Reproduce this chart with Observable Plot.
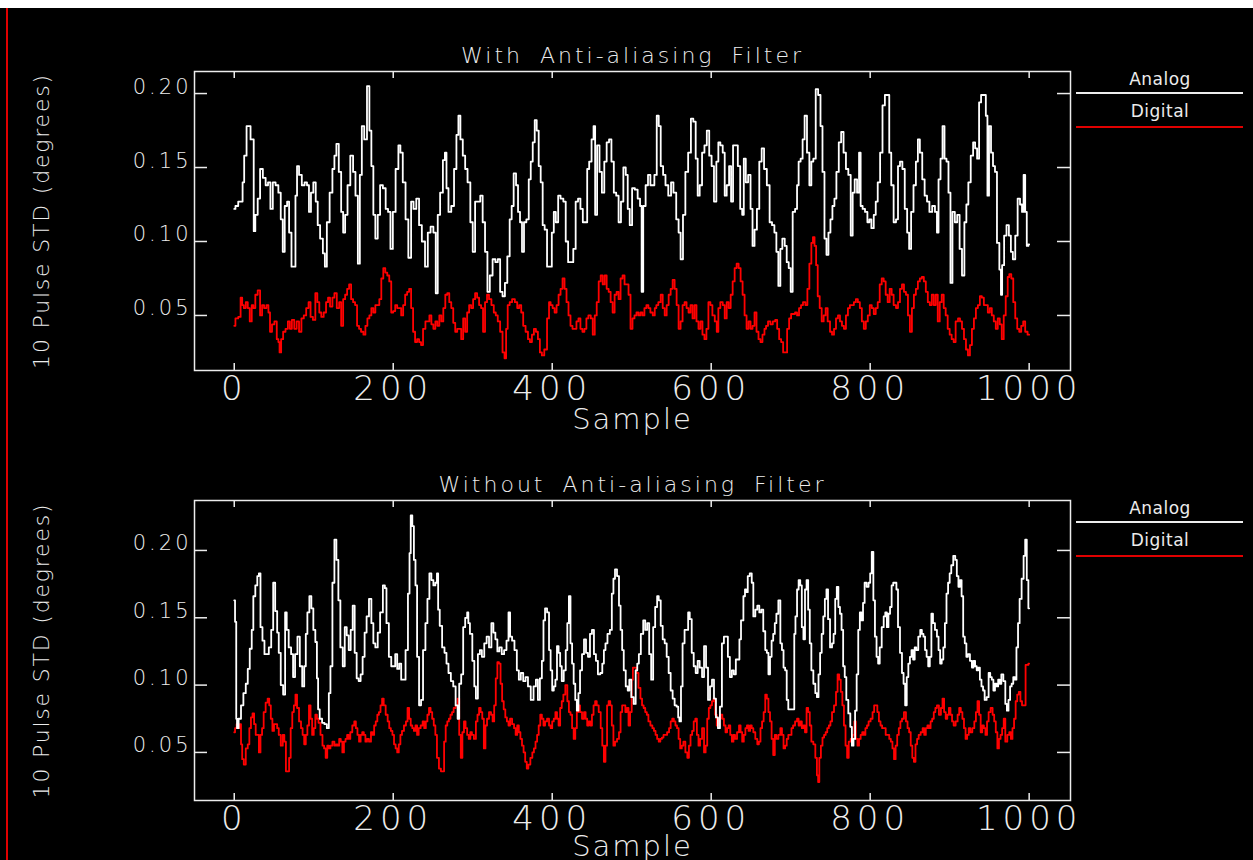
<!DOCTYPE html>
<html><head><meta charset="utf-8">
<script src="https://cdn.jsdelivr.net/npm/d3@7"></script>
<script src="https://cdn.jsdelivr.net/npm/@observablehq/plot@0.6"></script>
<style>
html,body{margin:0;padding:0;background:#000;}
#root{position:relative;width:1253px;height:860px;background:#000;overflow:hidden;font-family:"DejaVu Sans",sans-serif;}
.panel{position:absolute;left:0;}
#root svg text{font-weight:200;}
</style></head><body><div id="root"></div>
<script>
// ---------- data ----------
const xDomain = [-50, 1052];
const xTicks = [0, 200, 400, 600, 800, 1000];
const yTicks = [0.05, 0.10, 0.15, 0.20];
const topYDomain = [0.0128, 0.2149];
const bottomYDomain = [0.0143, 0.2371];
const panelTitles = ["With Anti-aliasing Filter", "Without Anti-aliasing Filter"];
const xLabel = "Sample";
const yLabel = "10 Pulse STD (degrees)";
const seriesNames = ["Analog", "Digital"];
const seriesColors = ["#ffffff", "#ff0000"];

// [sample, value]
const topAnalog = [[0,.122],[3,.124],[7,.127],[10,.127],[11,.140],[14,.158],[17,.178],[19,.178],[22,.169],[24,.169],[25,.107],[28,.118],[31,.129],[34,.149],[38,.143],[41,.138],[44,.140],[47,.122],[50,.140],[54,.138],[57,.133],[60,.115],[62,.093],[65,.124],[68,.127],[70,.106],[74,.083],[76,.083],[78,.131],[80,.151],[83,.145],[87,.138],[90,.140],[93,.138],[95,.120],[98,.133],[101,.140],[104,.127],[106,.111],[110,.102],[113,.092],[115,.083],[118,.113],[122,.133],[125,.149],[127,.158],[130,.166],[133,.147],[136,.120],[138,.106],[141,.118],[144,.138],[148,.158],[151,.147],[154,.131],[157,.085],[159,.145],[162,.178],[165,.169],[169,.205],[171,.175],[174,.151],[176,.118],[179,.102],[182,.118],[185,.138],[189,.136],[192,.122],[195,.120],[198,.095],[201,.120],[205,.149],[208,.165],[210,.160],[214,.140],[217,.115],[221,.089],[224,.127],[227,.122],[231,.129],[234,.111],[238,.100],[242,.083],[245,.106],[249,.110],[252,.106],[255,.065],[257,.118],[261,.133],[264,.155],[266,.160],[268,.136],[271,.120],[275,.124],[278,.149],[281,.172],[283,.185],[286,.169],[289,.158],[292,.149],[295,.140],[299,.113],[301,.093],[305,.127],[308,.127],[311,.131],[314,.113],[317,.093],[320,.066],[323,.077],[327,.088],[330,.086],[333,.088],[336,.066],[339,.063],[342,.072],[345,.090],[348,.115],[350,.124],[353,.146],[356,.138],[358,.120],[361,.113],[363,.093],[366,.113],[369,.115],[372,.142],[374,.154],[377,.167],[379,.182],[382,.175],[384,.151],[387,.140],[389,.111],[392,.108],[395,.083],[398,.083],[401,.106],[403,.120],[406,.113],[409,.131],[412,.129],[416,.127],[418,.100],[422,.086],[425,.086],[428,.095],[431,.127],[434,.129],[437,.122],[440,.113],[443,.113],[445,.149],[448,.154],[451,.169],[453,.178],[455,.118],[458,.165],[461,.147],[464,.133],[467,.154],[470,.167],[473,.169],[476,.154],[479,.133],[482,.131],[485,.113],[488,.127],[491,.150],[494,.145],[496,.122],[499,.111],[502,.136],[506,.135],[509,.129],[512,.124],[513,.066],[516,.124],[519,.138],[522,.145],[525,.138],[527,.138],[530,.145],[533,.185],[535,.178],[538,.151],[541,.145],[544,.138],[548,.131],[551,.140],[554,.133],[558,.115],[560,.106],[563,.088],[566,.118],[569,.147],[573,.160],[576,.183],[579,.181],[582,.156],[584,.131],[587,.138],[590,.160],[593,.165],[596,.175],[599,.158],[602,.151],[605,.127],[608,.154],[610,.167],[613,.165],[616,.160],[618,.131],[621,.138],[624,.151],[626,.127],[629,.165],[632,.165],[635,.151],[638,.122],[640,.118],[642,.156],[645,.140],[648,.145],[651,.122],[653,.097],[656,.108],[659,.122],[662,.154],[665,.163],[668,.149],[672,.138],[675,.113],[678,.111],[681,.106],[683,.093],[686,.070],[688,.095],[691,.102],[694,.097],[696,.086],[699,.082],[701,.066],[704,.120],[707,.122],[709,.138],[711,.154],[714,.156],[716,.169],[719,.185],[722,.160],[725,.138],[727,.154],[730,.156],[733,.203],[736,.199],[739,.178],[741,.147],[744,.102],[746,.091],[749,.106],[751,.115],[754,.124],[756,.129],[759,.147],[762,.167],[765,.174],[768,.160],[771,.149],[774,.145],[777,.104],[779,.133],[782,.142],[785,.133],[787,.160],[789,.124],[792,.122],[795,.120],[798,.113],[800,.115],[803,.109],[806,.118],[808,.127],[811,.140],[814,.160],[817,.192],[820,.199],[823,.199],[825,.160],[828,.138],[831,.113],[834,.115],[836,.151],[839,.154],[842,.149],[845,.122],[848,.106],[850,.095],[853,.120],[856,.138],[859,.154],[861,.169],[864,.160],[867,.142],[870,.131],[873,.127],[876,.120],[880,.124],[883,.120],[885,.106],[887,.142],[890,.156],[892,.178],[895,.156],[897,.154],[900,.133],[902,.072],[905,.120],[908,.113],[911,.118],[914,.095],[917,.077],[920,.113],[922,.125],[925,.140],[928,.158],[931,.167],[933,.163],[936,.156],[938,.194],[941,.199],[944,.199],[947,.185],[948,.131],[951,.178],[953,.160],[956,.151],[958,.147],[961,.099],[964,.081],[965,.064],[967,.084],[970,.104],[973,.111],[976,.104],[978,.093],[981,.088],[984,.104],[987,.129],[990,.125],[992,.120],[994,.145],[996,.120],[998,.097],[1000,.098]];

const topDigital = [[0,.043],[3,.048],[7,.049],[9,.062],[11,.057],[13,.055],[16,.059],[18,.055],[21,.046],[23,.057],[25,.055],[28,.064],[31,.067],[34,.050],[36,.057],[39,.055],[42,.057],[44,.052],[46,.039],[49,.044],[52,.046],[55,.034],[56,.032],[58,.025],[60,.034],[63,.039],[66,.041],[69,.046],[71,.041],[74,.047],[77,.041],[80,.046],[83,.039],[86,.048],[89,.050],[92,.055],[95,.059],[97,.049],[101,.047],[103,.065],[106,.059],[108,.052],[111,.049],[114,.052],[117,.059],[119,.062],[122,.056],[125,.062],[127,.065],[131,.055],[133,.059],[136,.043],[138,.061],[141,.064],[143,.068],[146,.071],[148,.061],[151,.059],[153,.057],[156,.043],[158,.041],[161,.039],[164,.037],[166,.043],[169,.048],[171,.050],[174,.055],[176,.052],[179,.057],[181,.057],[184,.061],[186,.075],[189,.082],[191,.079],[194,.077],[196,.073],[199,.052],[201,.053],[204,.057],[206,.055],[209,.055],[211,.050],[214,.057],[216,.064],[219,.066],[221,.068],[224,.055],[226,.039],[229,.032],[231,.034],[234,.032],[236,.030],[239,.041],[242,.046],[244,.046],[247,.050],[249,.044],[252,.041],[254,.046],[257,.043],[259,.050],[262,.046],[264,.055],[267,.064],[269,.065],[272,.059],[274,.055],[277,.045],[279,.039],[282,.041],[284,.041],[287,.034],[289,.048],[292,.039],[294,.052],[297,.057],[299,.055],[302,.061],[304,.065],[307,.062],[309,.057],[312,.055],[314,.039],[317,.059],[319,.064],[322,.061],[325,.057],[328,.052],[330,.050],[333,.046],[336,.039],[339,.025],[341,.021],[343,.041],[345,.057],[348,.059],[351,.061],[355,.059],[357,.055],[360,.057],[362,.052],[365,.043],[368,.039],[371,.034],[373,.032],[376,.037],[378,.041],[381,.039],[383,.034],[386,.025],[388,.023],[392,.027],[395,.048],[397,.059],[399,.057],[402,.055],[404,.052],[407,.057],[409,.064],[412,.068],[414,.075],[417,.068],[419,.059],[422,.050],[424,.043],[427,.041],[429,.041],[432,.046],[434,.048],[437,.041],[439,.039],[442,.041],[444,.048],[447,.050],[450,.048],[452,.037],[455,.050],[457,.059],[460,.073],[462,.077],[465,.071],[467,.077],[470,.068],[472,.066],[475,.059],[477,.052],[480,.064],[482,.066],[485,.061],[487,.075],[490,.077],[492,.071],[495,.071],[497,.064],[500,.041],[502,.048],[505,.050],[507,.052],[510,.050],[512,.052],[515,.050],[517,.055],[520,.057],[522,.055],[525,.052],[528,.050],[530,.055],[532,.057],[535,.059],[538,.064],[540,.055],[543,.050],[545,.057],[548,.064],[550,.068],[553,.074],[555,.068],[558,.057],[560,.041],[563,.046],[565,.057],[568,.059],[570,.055],[573,.052],[575,.057],[578,.048],[580,.057],[583,.046],[585,.041],[588,.046],[590,.037],[593,.034],[595,.041],[598,.059],[600,.057],[603,.050],[606,.046],[608,.039],[610,.055],[613,.059],[616,.057],[618,.048],[621,.059],[623,.055],[626,.064],[628,.073],[631,.082],[633,.085],[636,.082],[638,.073],[641,.064],[643,.050],[646,.041],[648,.046],[651,.041],[653,.043],[656,.052],[658,.039],[661,.034],[663,.032],[666,.037],[668,.041],[670,.043],[673,.046],[676,.044],[679,.046],[682,.047],[684,.041],[687,.034],[689,.032],[692,.025],[694,.025],[697,.041],[699,.048],[702,.051],[704,.051],[707,.052],[709,.050],[712,.055],[714,.057],[717,.059],[720,.057],[722,.068],[725,.085],[727,.099],[729,.103],[731,.097],[733,.084],[735,.063],[738,.055],[740,.046],[743,.050],[745,.055],[748,.046],[751,.039],[753,.037],[756,.041],[758,.048],[761,.050],[763,.046],[766,.043],[768,.041],[771,.050],[773,.055],[776,.057],[778,.057],[781,.059],[783,.061],[786,.059],[788,.055],[791,.046],[793,.041],[796,.046],[798,.050],[801,.057],[803,.055],[806,.051],[808,.055],[811,.059],[813,.071],[816,.075],[818,.073],[821,.064],[823,.059],[826,.068],[828,.064],[831,.057],[834,.055],[836,.059],[839,.068],[841,.071],[844,.066],[846,.064],[849,.050],[851,.039],[854,.055],[856,.064],[859,.068],[861,.073],[864,.075],[866,.076],[869,.073],[871,.066],[874,.059],[876,.057],[879,.064],[881,.057],[884,.064],[886,.046],[889,.059],[891,.064],[894,.055],[896,.050],[899,.041],[901,.037],[904,.034],[906,.032],[909,.046],[912,.048],[914,.046],[917,.041],[919,.034],[922,.027],[924,.023],[927,.030],[929,.041],[932,.048],[934,.055],[937,.057],[939,.063],[942,.062],[944,.057],[947,.057],[949,.052],[952,.055],[954,.050],[957,.046],[959,.041],[962,.048],[964,.044],[967,.034],[969,.050],[972,.063],[974,.076],[976,.078],[979,.075],[981,.059],[984,.048],[986,.041],[989,.039],[991,.043],[994,.046],[996,.039],[1000,.037]];

const bottomAnalog = [[0,.163],[2,.147],[3,.075],[4,.068],[7,.075],[10,.085],[13,.094],[16,.101],[18,.112],[21,.127],[23,.141],[25,.166],[28,.174],[30,.181],[32,.183],[34,.143],[37,.133],[39,.123],[42,.123],[45,.128],[48,.141],[50,.176],[53,.155],[55,.139],[57,.124],[60,.100],[63,.093],[65,.154],[67,.141],[70,.128],[73,.123],[75,.106],[78,.123],[81,.136],[84,.114],[87,.099],[89,.114],[91,.138],[93,.154],[96,.166],[98,.157],[101,.141],[103,.132],[105,.105],[106,.082],[109,.075],[112,.072],[115,.071],[118,.068],[120,.094],[122,.114],[125,.176],[127,.208],[130,.193],[132,.163],[135,.128],[138,.114],[140,.143],[143,.137],[145,.126],[148,.141],[150,.159],[153,.124],[155,.105],[158,.103],[160,.108],[163,.121],[165,.139],[168,.151],[171,.164],[174,.146],[176,.131],[179,.128],[182,.139],[185,.154],[189,.174],[190,.172],[193,.146],[196,.121],[199,.114],[201,.114],[204,.123],[206,.112],[209,.116],[211,.104],[214,.104],[217,.126],[220,.168],[221,.198],[223,.226],[225,.218],[227,.193],[229,.174],[231,.121],[234,.085],[236,.089],[239,.126],[242,.146],[244,.164],[247,.183],[249,.178],[252,.174],[254,.176],[256,.183],[257,.156],[260,.144],[263,.128],[266,.124],[268,.116],[271,.109],[274,.103],[277,.099],[280,.085],[282,.075],[284,.101],[287,.108],[289,.143],[292,.150],[294,.154],[295,.146],[298,.138],[301,.118],[303,.099],[305,.090],[308,.123],[310,.126],[313,.121],[316,.131],[319,.136],[322,.128],[325,.146],[327,.139],[330,.134],[332,.125],[335,.128],[338,.123],[341,.126],[344,.133],[346,.154],[348,.136],[351,.133],[354,.126],[357,.111],[359,.104],[362,.109],[365,.103],[368,.106],[371,.099],[375,.089],[378,.099],[381,.104],[383,.089],[386,.105],[388,.118],[390,.148],[392,.157],[395,.154],[397,.126],[399,.111],[401,.096],[403,.099],[405,.104],[407,.129],[409,.124],[411,.114],[413,.103],[416,.111],[418,.126],[420,.146],[422,.166],[424,.131],[426,.116],[428,.101],[430,.089],[432,.081],[434,.094],[436,.111],[439,.123],[441,.134],[444,.124],[446,.121],[449,.138],[451,.141],[454,.123],[456,.118],[459,.108],[462,.109],[464,.116],[466,.126],[468,.131],[471,.138],[474,.141],[476,.168],[478,.179],[480,.186],[483,.181],[485,.159],[487,.141],[489,.126],[491,.111],[494,.099],[496,.096],[498,.104],[501,.091],[504,.086],[506,.111],[508,.116],[510,.123],[513,.138],[516,.148],[518,.141],[521,.146],[523,.123],[526,.104],[528,.143],[531,.158],[533,.166],[535,.163],[538,.144],[540,.134],[543,.131],[545,.121],[548,.109],[550,.096],[553,.090],[555,.085],[558,.084],[559,.076],[561,.073],[563,.099],[565,.131],[568,.141],[570,.141],[572,.154],[574,.149],[577,.124],[579,.114],[582,.109],[584,.118],[587,.113],[590,.106],[592,.129],[595,.113],[597,.089],[600,.099],[602,.104],[605,.090],[607,.076],[610,.068],[612,.084],[615,.131],[617,.136],[620,.136],[622,.121],[625,.106],[627,.111],[630,.108],[632,.119],[635,.119],[636,.134],[639,.148],[642,.166],[643,.171],[645,.169],[647,.181],[650,.183],[652,.176],[654,.151],[657,.156],[659,.159],[662,.154],[664,.156],[667,.140],[669,.126],[671,.124],[673,.108],[675,.121],[677,.133],[679,.138],[681,.146],[683,.153],[686,.163],[688,.131],[690,.126],[692,.113],[694,.111],[696,.089],[698,.082],[701,.082],[704,.082],[705,.138],[707,.151],[709,.171],[711,.178],[713,.174],[715,.143],[717,.134],[719,.171],[721,.178],[723,.156],[725,.131],[727,.111],[730,.101],[732,.094],[734,.091],[736,.108],[738,.124],[740,.138],[742,.151],[744,.164],[746,.171],[748,.149],[751,.128],[753,.131],[755,.138],[757,.164],[759,.173],[761,.158],[763,.153],[765,.141],[767,.114],[769,.106],[771,.089],[774,.079],[776,.069],[778,.055],[780,.060],[782,.081],[784,.108],[786,.141],[788,.154],[790,.148],[792,.161],[794,.176],[797,.173],[799,.176],[801,.183],[803,.199],[805,.163],[807,.136],[809,.121],[811,.116],[813,.128],[816,.143],[818,.151],[820,.154],[822,.143],[824,.153],[826,.158],[828,.174],[830,.176],[832,.176],[834,.171],[836,.143],[839,.124],[841,.109],[843,.101],[845,.085],[847,.106],[849,.116],[851,.121],[853,.126],[855,.119],[857,.128],[859,.126],[862,.136],[864,.141],[866,.138],[868,.136],[870,.126],[872,.121],[874,.114],[876,.121],[878,.153],[880,.146],[883,.141],[885,.136],[887,.126],[889,.116],[891,.119],[893,.128],[895,.146],[897,.168],[899,.176],[901,.183],[903,.189],[906,.196],[908,.193],[910,.181],[912,.173],[914,.178],[916,.166],[918,.136],[920,.131],[922,.121],[924,.123],[927,.118],[929,.113],[931,.118],[933,.114],[935,.111],[937,.113],[939,.104],[941,.099],[943,.096],[945,.089],[948,.091],[950,.109],[952,.106],[954,.104],[956,.096],[958,.101],[960,.099],[962,.104],[964,.101],[966,.108],[969,.103],[971,.086],[973,.081],[975,.089],[977,.099],[979,.101],[981,.106],[983,.104],[985,.128],[987,.146],[989,.164],[992,.179],[994,.196],[996,.208],[998,.178],[1000,.157]];

const bottomDigital = [[0,.065],[2,.068],[4,.071],[6,.068],[8,.071],[9,.056],[11,.045],[13,.041],[16,.053],[18,.056],[20,.068],[22,.076],[24,.079],[26,.071],[28,.063],[30,.063],[32,.050],[34,.063],[36,.068],[38,.080],[41,.087],[43,.090],[45,.085],[47,.075],[49,.066],[51,.071],[53,.071],[55,.068],[57,.063],[60,.055],[62,.063],[64,.058],[66,.036],[68,.036],[70,.046],[72,.068],[74,.080],[76,.085],[78,.093],[80,.083],[83,.073],[85,.068],[87,.063],[89,.056],[91,.063],[93,.070],[95,.085],[97,.075],[99,.063],[101,.068],[103,.078],[105,.075],[107,.072],[110,.063],[112,.055],[114,.053],[116,.046],[118,.055],[120,.053],[122,.055],[125,.058],[127,.055],[129,.056],[131,.055],[133,.060],[135,.058],[137,.050],[139,.058],[141,.060],[143,.063],[145,.060],[147,.065],[150,.070],[152,.073],[154,.068],[156,.063],[158,.058],[160,.063],[162,.065],[164,.063],[166,.058],[168,.060],[171,.058],[173,.065],[175,.063],[177,.070],[179,.073],[181,.078],[183,.080],[185,.085],[187,.090],[189,.085],[192,.078],[194,.073],[196,.068],[198,.066],[200,.063],[202,.056],[204,.053],[206,.050],[208,.056],[210,.063],[212,.066],[215,.070],[217,.073],[219,.083],[221,.075],[223,.070],[225,.068],[227,.066],[229,.070],[231,.063],[233,.068],[236,.070],[238,.073],[240,.068],[242,.073],[244,.078],[246,.083],[248,.080],[250,.075],[252,.070],[254,.063],[256,.046],[259,.038],[261,.036],[263,.036],[265,.058],[267,.070],[269,.073],[271,.075],[273,.078],[275,.080],[277,.083],[280,.085],[282,.090],[284,.063],[286,.046],[288,.065],[290,.073],[292,.068],[294,.063],[296,.060],[298,.065],[300,.063],[303,.060],[305,.073],[307,.078],[309,.083],[311,.080],[313,.075],[315,.053],[317,.070],[319,.075],[322,.080],[324,.078],[326,.073],[328,.085],[330,.105],[332,.117],[334,.116],[336,.101],[338,.088],[340,.082],[342,.076],[344,.073],[346,.070],[348,.075],[351,.071],[353,.068],[355,.063],[357,.070],[359,.065],[361,.060],[363,.055],[365,.050],[367,.043],[369,.038],[371,.041],[374,.046],[376,.050],[378,.053],[380,.058],[382,.063],[384,.070],[386,.078],[388,.075],[390,.070],[392,.073],[395,.075],[397,.070],[399,.068],[401,.073],[403,.075],[405,.080],[407,.075],[409,.070],[411,.083],[413,.088],[415,.093],[418,.100],[420,.088],[422,.080],[424,.078],[426,.068],[428,.060],[430,.068],[432,.080],[434,.085],[436,.080],[439,.075],[441,.080],[443,.075],[445,.070],[447,.073],[449,.070],[451,.078],[453,.085],[455,.088],[457,.085],[460,.080],[462,.068],[464,.055],[466,.043],[468,.055],[470,.085],[472,.088],[474,.085],[476,.070],[478,.055],[480,.058],[483,.060],[485,.065],[487,.080],[489,.085],[491,.085],[493,.080],[495,.083],[497,.070],[499,.080],[501,.104],[502,.113],[505,.113],[507,.109],[510,.098],[512,.090],[514,.085],[516,.083],[518,.080],[520,.078],[522,.073],[525,.070],[527,.068],[529,.066],[531,.063],[533,.060],[535,.058],[537,.060],[539,.061],[541,.063],[543,.063],[546,.065],[548,.068],[550,.073],[552,.075],[554,.073],[556,.070],[558,.068],[560,.060],[562,.053],[564,.055],[566,.058],[569,.050],[571,.046],[573,.055],[575,.063],[577,.066],[579,.073],[581,.075],[583,.063],[585,.055],[587,.060],[590,.068],[592,.050],[594,.055],[596,.075],[598,.083],[600,.085],[602,.088],[604,.090],[606,.078],[608,.070],[610,.075],[613,.078],[615,.075],[617,.070],[619,.065],[621,.068],[623,.070],[625,.063],[627,.058],[629,.063],[631,.060],[634,.065],[636,.070],[638,.065],[640,.058],[642,.063],[644,.068],[646,.070],[648,.066],[650,.070],[652,.068],[654,.065],[657,.060],[659,.056],[661,.058],[663,.068],[665,.073],[667,.080],[669,.093],[671,.090],[673,.080],[675,.073],[677,.060],[679,.048],[681,.063],[683,.060],[686,.063],[688,.068],[690,.063],[692,.053],[694,.055],[696,.060],[698,.063],[700,.063],[702,.068],[704,.070],[707,.073],[709,.075],[711,.070],[713,.073],[715,.068],[717,.070],[719,.065],[721,.083],[723,.080],[725,.070],[727,.058],[730,.056],[732,.046],[734,.033],[735,.028],[737,.046],[739,.055],[741,.061],[743,.063],[745,.065],[747,.068],[749,.070],[751,.073],[753,.080],[756,.085],[758,.095],[760,.108],[762,.104],[764,.095],[766,.085],[768,.070],[770,.055],[772,.046],[774,.058],[777,.060],[779,.063],[781,.073],[783,.060],[785,.055],[787,.060],[789,.063],[791,.065],[793,.063],[795,.068],[797,.070],[799,.073],[802,.075],[804,.080],[806,.085],[808,.085],[810,.080],[812,.073],[814,.070],[816,.068],[818,.068],[821,.063],[823,.063],[825,.060],[827,.058],[829,.053],[831,.045],[833,.055],[835,.063],[837,.068],[839,.073],[841,.075],[844,.080],[846,.073],[848,.068],[850,.065],[852,.055],[854,.046],[856,.043],[858,.056],[860,.060],[862,.063],[865,.065],[867,.068],[869,.063],[871,.068],[873,.070],[875,.068],[877,.073],[879,.075],[881,.080],[883,.083],[885,.085],[888,.078],[890,.083],[892,.090],[894,.080],[896,.075],[898,.078],[900,.083],[902,.078],[904,.073],[906,.070],[909,.073],[911,.078],[913,.083],[915,.080],[917,.075],[919,.068],[921,.060],[923,.063],[925,.068],[927,.065],[930,.068],[932,.073],[934,.080],[936,.088],[938,.078],[940,.065],[942,.070],[944,.068],[946,.063],[948,.073],[950,.080],[953,.083],[955,.078],[957,.073],[959,.065],[961,.053],[963,.060],[965,.063],[967,.068],[969,.075],[971,.058],[974,.063],[976,.065],[978,.060],[980,.068],[982,.075],[984,.088],[986,.093],[988,.095],[990,.088],[992,.085],[995,.085],[996,.115],[998,.115],[1000,.116]];

// ---------- drawing ----------
const W = 1253, H = 430, ML = 194, MR = 183, MB = 60;
const FG = "#ececec";
const toRows = (arr) => arr.map(([sample, value]) => ({sample, value}));

function panel({title, yDomain, analog, digital, marginTop, sampleDy}) {
  const fw = W - ML - MR, fh = H - marginTop - MB;
  const svg = Plot.plot({
    width: W, height: H,
    marginLeft: ML, marginRight: MR, marginTop, marginBottom: MB,
    style: {background: "transparent", color: FG, fontFamily: "DejaVu Sans", overflow: "visible"},
    x: {domain: xDomain, axis: null},
    y: {domain: yDomain, axis: null},
    marks: [
      Plot.frame({stroke: FG, strokeWidth: 1.5}),
      Plot.tickY(yTicks, {y: d => d, stroke: FG, strokeWidth: 1.5, insetRight: fw - 13}),
      Plot.tickY(yTicks, {y: d => d, stroke: FG, strokeWidth: 1.5, insetLeft: fw - 13}),
      Plot.tickX(xTicks, {x: d => d, stroke: FG, strokeWidth: 1.5, insetBottom: fh - 7}),
      Plot.tickX(xTicks, {x: d => d, stroke: FG, strokeWidth: 1.5, insetTop: fh - 7}),
      Plot.axisY(yTicks, {anchor: "left", tickSize: 0, tickPadding: 3, fontSize: 21, lineAnchor: "bottom", tickFormat: d3.format(".2f"), label: null, fill: FG}),
      Plot.axisX(xTicks, {anchor: "bottom", tickSize: 0, tickPadding: 5, fontSize: 34, tickFormat: d => String(d), label: null, fill: FG}),
      Plot.line(toRows(digital), {x: "sample", y: "value", curve: "step", stroke: seriesColors[1], strokeWidth: 1.8}),
      Plot.line(toRows(analog), {x: "sample", y: "value", curve: "step", stroke: seriesColors[0], strokeWidth: 1.8}),
      Plot.text([title], {text: d => d, frameAnchor: "top", dy: -9, lineAnchor: "bottom", fontSize: 22, fill: FG}),
      Plot.text([xLabel], {text: d => d, frameAnchor: "bottom", dy: sampleDy, lineAnchor: "bottom", fontSize: 29, fill: FG}),
      Plot.text([yLabel], {text: d => d, frameAnchor: "left", textAnchor: "middle", dx: -146, rotate: -90, lineAnchor: "bottom", fontSize: 22, fill: FG})
    ]
  });
  const s = d3.select(svg);
  s.selectAll('g[aria-label="y-axis tick label"] text').style("letter-spacing", "3px");
  s.selectAll('g[aria-label="x-axis tick label"] text').style("letter-spacing", "5px");
  s.selectAll("text").each(function() {
    const t = this.textContent;
    if (t === title) d3.select(this).style("letter-spacing", "3px").style("word-spacing", "7px");
    else if (t === xLabel) d3.select(this).style("letter-spacing", "2px");
    else if (t === yLabel) d3.select(this).style("letter-spacing", "1.8px");
  });
  return svg;
}

const root = document.getElementById("root");
const panels = [
  {title: panelTitles[0], yDomain: topYDomain, analog: topAnalog, digital: topDigital, marginTop: 71, sampleDy: 58, top: 0},
  {title: panelTitles[1], yDomain: bottomYDomain, analog: bottomAnalog, digital: bottomDigital, marginTop: 70, sampleDy: 55, top: 430}
];
for (const p of panels) {
  const div = document.createElement("div");
  div.className = "panel";
  div.style.top = p.top + "px";
  div.appendChild(panel(p));
  root.appendChild(div);
}

// decorations + legends
const deco = d3.select(root).append("svg")
  .attr("width", W).attr("height", 860)
  .style("position", "absolute").style("left", 0).style("top", 0);
deco.append("rect").attr("x", 0).attr("y", 0).attr("width", W).attr("height", 8).attr("fill", "#fff");
deco.append("rect").attr("x", 6).attr("y", 8).attr("width", 2).attr("height", 852).attr("fill", "#e00000");
for (const p of panels) {
  const ft = p.top + p.marginTop;
  seriesNames.forEach((name, i) => {
    deco.append("text").attr("x", 1160).attr("y", ft + 14 + i * 32)
      .attr("text-anchor", "middle").attr("fill", FG)
      .style("font-family", "DejaVu Sans").style("font-size", "17px").style("font-weight", 400)
      .style("letter-spacing", "0.5px").text(name);
    deco.append("line").attr("x1", 1076).attr("x2", 1243)
      .attr("y1", ft + 22 + i * 34).attr("y2", ft + 22 + i * 34)
      .attr("stroke", i === 0 ? FG : "#e00000").attr("stroke-width", 2);
  });
}
</script></body></html>
